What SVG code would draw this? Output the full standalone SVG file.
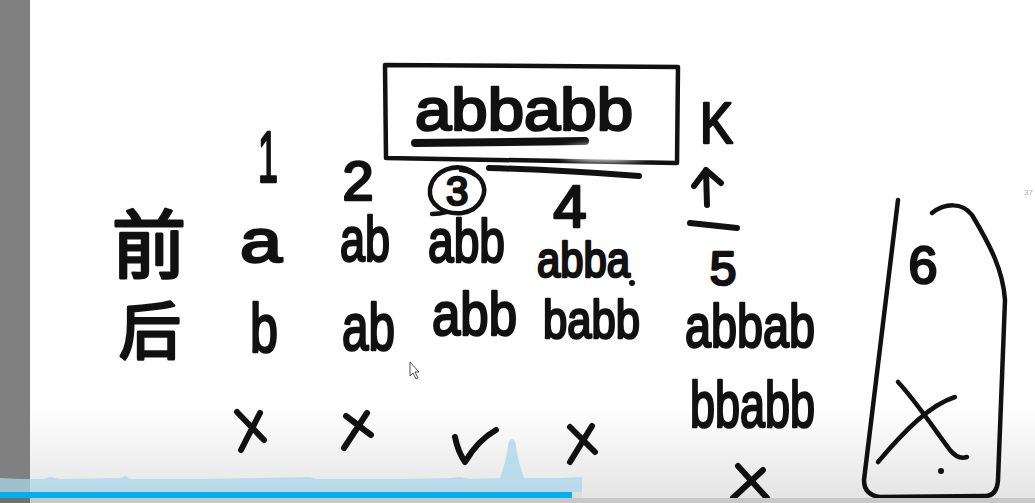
<svg xmlns="http://www.w3.org/2000/svg" width="1035" height="503" viewBox="0 0 1035 503">
<style>
.h{font-family:"Liberation Sans","DejaVu Sans",sans-serif;font-weight:normal;fill:#111;stroke:#111;stroke-width:2.6;stroke-linejoin:round}
.cjk{font-family:"Noto Sans CJK SC","Noto Sans",sans-serif;font-weight:normal;fill:#111;stroke:#111;stroke-width:3;stroke-linejoin:round}
.s{fill:none;stroke:#111;stroke-width:6;stroke-linecap:round;stroke-linejoin:round}
.t{fill:none;stroke:#111;stroke-width:4.5;stroke-linecap:round;stroke-linejoin:round}
</style>
<defs>
<linearGradient id="shade" x1="0" y1="0" x2="0" y2="1">
<stop offset="0" stop-color="#000" stop-opacity="0"/>
<stop offset="1" stop-color="#000" stop-opacity="0.11"/>
</linearGradient>
<filter id="blur" x="-20%" y="-50%" width="140%" height="200%"><feGaussianBlur stdDeviation="3"/></filter>
</defs>
<rect width="1035" height="503" fill="#fff"/>

<g id="word-box">
<path class="t" d="M385 65 L678 67 L677 163 L386 158 Z"/>
<text class="h" x="415" y="130" font-size="60" textLength="218" lengthAdjust="spacingAndGlyphs">abbabb</text>
<path d="M415 143 L585 141" stroke="#111" stroke-width="8" stroke-linecap="round"/>
<ellipse cx="605" cy="153" rx="45" ry="9" fill="#fff" opacity="0.85" filter="url(#blur)"/>
<path class="s" d="M489 168 Q560 170 639 176" stroke-width="5"/>
</g>

<g id="k-label">
<text class="h" x="700" y="143" font-size="58" textLength="33" lengthAdjust="spacingAndGlyphs">K</text>
<path class="s" d="M707 205 L706 170 M694 186 L706 170 L721 183" stroke-width="5"/>
<path class="s" d="M690 223 L737 228" stroke-width="5"/>
<text class="h" x="723" y="285" font-size="48" text-anchor="middle">5</text>
</g>

<g id="col-numbers">
<text class="h" x="268" y="182" font-size="72" text-anchor="middle" textLength="20" lengthAdjust="spacingAndGlyphs">1</text>
<text class="h" x="358" y="200" font-size="56" text-anchor="middle">2</text>
<path class="t" d="M474 173 C457 161 433 170 430 189 C428 205 445 215 462 213 C481 210 489 192 481 180 C475 172 467 171 461 170 M446 212 Q440 214 432 214"/>
<text class="h" x="457" y="205" font-size="40" text-anchor="middle">3</text>
<text class="h" x="570" y="227" font-size="60" text-anchor="middle">4</text>
</g>

<g id="row-front">
<text class="cjk" x="149" y="272" font-size="74" text-anchor="middle">前</text>
<text class="h" x="240" y="262" font-size="62" textLength="42" lengthAdjust="spacingAndGlyphs">a</text>
<text class="h" x="340" y="261" font-size="63" textLength="50" lengthAdjust="spacingAndGlyphs">ab</text>
<text class="h" x="428" y="262" font-size="62" textLength="77" lengthAdjust="spacingAndGlyphs">abb</text>
<text class="h" x="537" y="277" font-size="50" textLength="93" lengthAdjust="spacingAndGlyphs">abba</text>
<circle cx="632" cy="283" r="3" fill="#111"/>
</g>

<g id="row-back">
<text class="cjk" x="150" y="354" font-size="62" text-anchor="middle">后</text>
<text class="h" x="250" y="352" font-size="68" textLength="28" lengthAdjust="spacingAndGlyphs">b</text>
<text class="h" x="342" y="350" font-size="66" textLength="53" lengthAdjust="spacingAndGlyphs">ab</text>
<text class="h" x="432" y="335" font-size="62" textLength="85" lengthAdjust="spacingAndGlyphs">abb</text>
<text class="h" x="543" y="338" font-size="54" textLength="97" lengthAdjust="spacingAndGlyphs">babb</text>
<text class="h" x="685" y="347" font-size="62" textLength="130" lengthAdjust="spacingAndGlyphs">abbab</text>
<text class="h" x="690" y="427" font-size="64" textLength="125" lengthAdjust="spacingAndGlyphs">bbabb</text>
</g>

<g id="marks">
<path class="s" d="M237 412 L264 440 M260 413 L241 450"/>
<path class="s" d="M346 416 L371 435 M367 413 L344 448"/>
<path class="s" d="M455 437 Q458 452 465 462 Q478 440 496 430"/>
<path class="s" d="M570 427 L595 452 M592 426 L570 462"/>
<path class="s" d="M738 466 L767 498 M763 470 L733 498"/>
</g>

<g id="case-6">
<path class="t" d="M932 213 C945 203 962 202 972 215 C990 245 1003 270 1005 300 L998 480 Q997 496 985 496 L880 497 Q864 495 864 480 L898 200" stroke-width="4"/>
<text class="h" x="923" y="283" font-size="52" text-anchor="middle">6</text>
<path class="t" d="M898 382 C915 400 935 430 950 450 Q958 460 967 457" stroke-width="4"/>
<path class="t" d="M955 397 C930 405 905 430 878 462" stroke-width="4"/>
<circle cx="941" cy="471" r="3" fill="#111"/>
</g>

<text x="1024" y="195" font-family="Liberation Sans,sans-serif" font-size="8" fill="#aab">37</text>

<polygon points="410,362 410,376 413,373 416,379 418,378 415,372 419,372" fill="#fff" stroke="#222" stroke-width="0.8"/>

<rect x="0" y="405" width="1035" height="98" fill="url(#shade)"/>
<rect x="0" y="0" width="30" height="503" fill="#808080"/>
<path d="M0 478 L20 479 L45 479 L50 477 L60 479 L120 478 L125 476 L130 479 L200 479 L260 478 L310 477 L315 479 L400 479 L450 478 L460 477 L470 479 L500 478 L505 462 L509 441 L512 439 L515 441 L519 462 L524 478 L560 478 L582 477 L582 492 L0 492 Z" fill="#a9d7ea" opacity="0.75"/>
<rect x="0" y="492" width="572" height="6" fill="#00b0ef"/>
<rect x="572" y="492" width="10" height="6" fill="#ddd"/>
<rect x="0" y="498" width="1035" height="5" fill="#c8c8c8"/>
<rect x="0" y="498" width="30" height="5" fill="#707070"/>
</svg>
